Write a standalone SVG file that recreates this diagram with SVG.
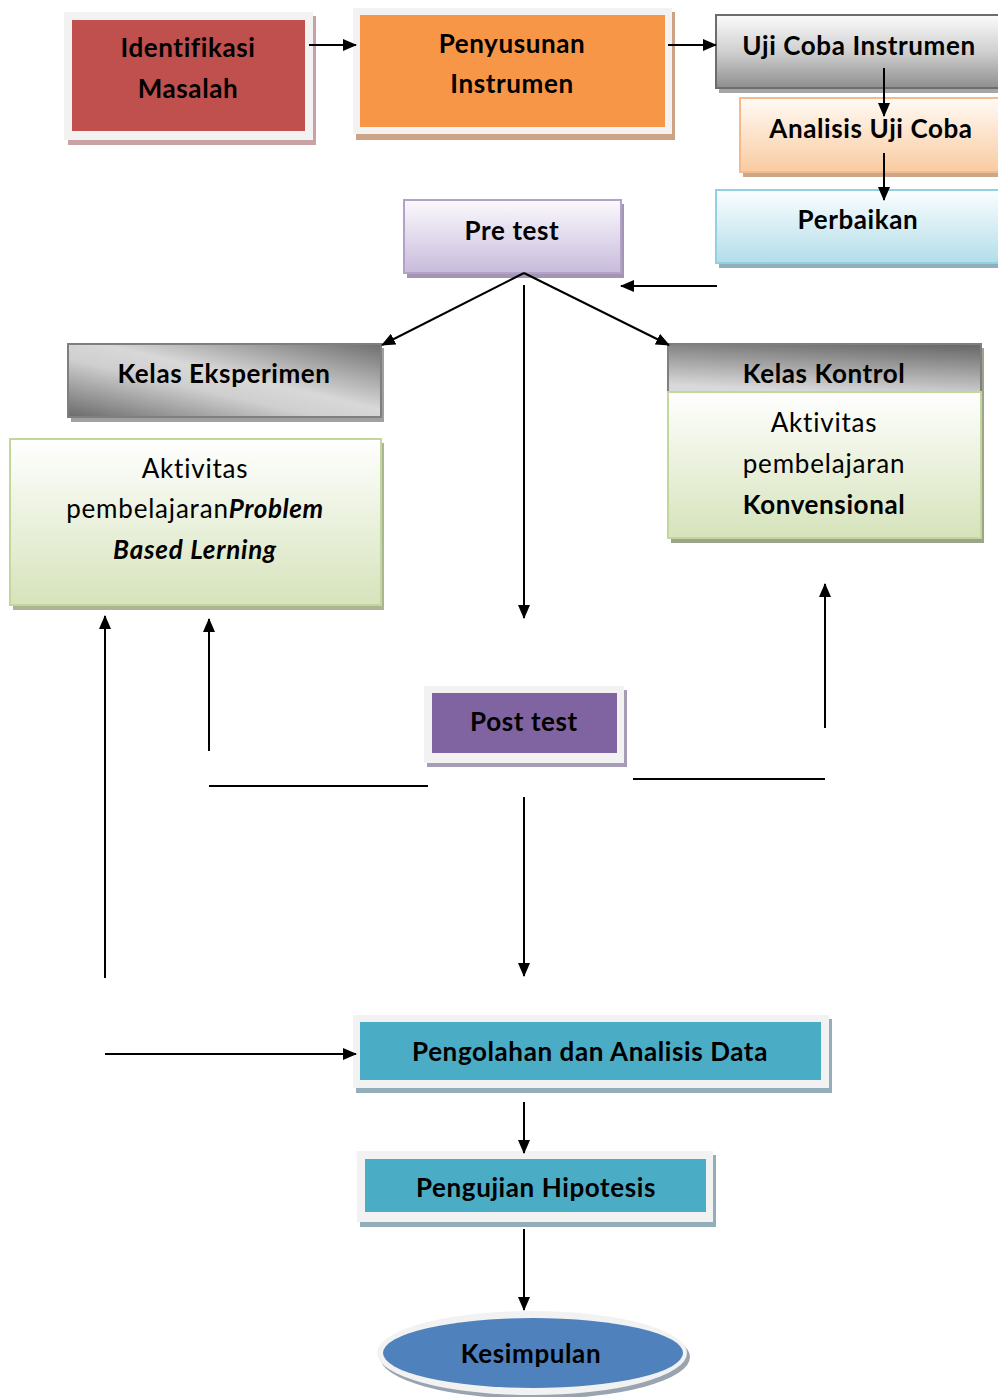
<svg xmlns="http://www.w3.org/2000/svg" width="998" height="1397" viewBox="0 0 998 1397">
<defs>
<style>
.t{font-family:Lato,"Liberation Sans",sans-serif;font-weight:700;font-size:26px;letter-spacing:0.6px;fill:#000;text-anchor:middle;font-variant-ligatures:none}
.n{font-family:Lato,"Liberation Sans",sans-serif;font-weight:400;font-size:26px;letter-spacing:0.8px;fill:#000;text-anchor:middle;font-variant-ligatures:none}
.bi{font-weight:700;font-style:italic}
.frame{fill:#f2f2f2}
.ln{stroke:#000;stroke-width:2;fill:none}
.arr{marker-end:url(#ah)}
</style>
<marker id="ah" markerUnits="userSpaceOnUse" markerWidth="14" markerHeight="12" refX="13" refY="6" orient="auto">
<path d="M0,0 L14,6 L0,12 z" fill="#000"/>
</marker>
<linearGradient id="gUji" x1="0" y1="0" x2="0" y2="1"><stop offset="0" stop-color="#fbfbfb"/><stop offset="0.5" stop-color="#d0d0d0"/><stop offset="1" stop-color="#8e8e8e"/></linearGradient>
<linearGradient id="gAnal" x1="0" y1="0" x2="0" y2="1"><stop offset="0" stop-color="#fffaf5"/><stop offset="1" stop-color="#f9cba0"/></linearGradient>
<linearGradient id="gPerb" x1="0" y1="0" x2="0" y2="1"><stop offset="0" stop-color="#fbfeff"/><stop offset="1" stop-color="#b3dde9"/></linearGradient>
<linearGradient id="gPre" x1="0" y1="0" x2="0" y2="1"><stop offset="0" stop-color="#fbf9fd"/><stop offset="1" stop-color="#c8bbdb"/></linearGradient>
<linearGradient id="gGreen" x1="0" y1="0" x2="0" y2="1"><stop offset="0" stop-color="#ffffff"/><stop offset="1" stop-color="#d6e3bb"/></linearGradient>
<linearGradient id="gEks" x1="1" y1="0" x2="0" y2="1"><stop offset="0" stop-color="#6e6e6e"/><stop offset="0.45" stop-color="#d8d8d8"/><stop offset="0.6" stop-color="#cfcfcf"/><stop offset="1" stop-color="#6a6a6a"/></linearGradient>
<linearGradient id="gKon" x1="0.8" y1="0" x2="0.5" y2="1"><stop offset="0" stop-color="#6a6a6a"/><stop offset="1" stop-color="#d9d9d9"/></linearGradient>
</defs>

<g id="identifikasi">
<rect x="68" y="16" width="248" height="129" fill="#c9a3a3"/>
<rect class="frame" x="64" y="12" width="249" height="128"/>
<rect x="72" y="20" width="233" height="111" fill="#c0504d"/>
<text class="t" x="188" y="57">Identifikasi</text>
<text class="t" x="188" y="98">Masalah</text>
</g>

<g id="penyusunan">
<rect x="356" y="12" width="319" height="128" fill="#cda385"/>
<rect class="frame" x="353" y="8" width="319" height="126"/>
<rect x="360" y="15" width="305" height="112" fill="#f79646"/>
<text class="t" x="512" y="53">Penyusunan</text>
<text class="t" x="512" y="93">Instrumen</text>
</g>

<g id="ujicoba">
<rect x="719" y="19" width="285" height="74" fill="#a6a6a6"/>
<rect x="716" y="15" width="290" height="73" fill="url(#gUji)" stroke="#6d6d6d" stroke-width="2"/>
<text class="t" x="859" y="55">Uji Coba Instrumen</text>
</g>

<g id="analisis">
<rect x="743" y="102" width="262" height="75" fill="#c8a888"/>
<rect x="740" y="98" width="266" height="74" fill="url(#gAnal)" stroke="#f5b98b" stroke-width="2"/>
<text class="t" x="871" y="138">Analisis Uji Coba</text>
</g>

<g id="perbaikan">
<rect x="719" y="194" width="285" height="74" fill="#8fb0ba"/>
<rect x="716" y="190" width="290" height="73" fill="url(#gPerb)" stroke="#92d1e2" stroke-width="2"/>
<text class="t" x="858" y="229">Perbaikan</text>
</g>

<g id="pretest">
<rect x="407" y="204" width="217" height="74" fill="#a396b3"/>
<rect x="404" y="200" width="217" height="73" fill="url(#gPre)" stroke="#b3a2c7" stroke-width="2"/>
<text class="t" x="512" y="240">Pre test</text>
</g>

<g id="kelas-eksperimen">
<rect x="71" y="348" width="313" height="74" fill="#a0a0a0"/>
<rect x="68" y="344" width="313" height="73" fill="url(#gEks)" stroke="#7f7f7f" stroke-width="2"/>
<text class="t" x="224" y="383">Kelas Eksperimen</text>
</g>

<g id="aktivitas-pbl">
<rect x="13" y="443" width="371" height="167" fill="#aab594"/>
<rect x="10" y="439" width="371" height="166" fill="url(#gGreen)" stroke="#c3d69b" stroke-width="2"/>
<text class="n" x="195" y="478">Aktivitas</text>
<text class="n" x="195" y="518">pembelajaran<tspan class="bi" letter-spacing="0.6px">Problem</tspan></text>
<text class="n bi" x="195" y="559" letter-spacing="0.6px">Based Lerning</text>
</g>

<g id="kelas-kontrol">
<rect x="671" y="348" width="313" height="195" fill="#9aa58a"/>
<rect x="668" y="344" width="313" height="48" fill="url(#gKon)" stroke="#7f7f7f" stroke-width="2"/>
<text class="t" x="824" y="383">Kelas Kontrol</text>
<rect x="668" y="392" width="313" height="146" fill="url(#gGreen)" stroke="#c3d69b" stroke-width="2"/>
<text class="n" x="824" y="432">Aktivitas</text>
<text class="n" x="824" y="473">pembelajaran</text>
<text class="t" x="824" y="514">Konvensional</text>
</g>

<g id="posttest">
<rect x="427" y="690" width="200" height="77" fill="#a79cb5"/>
<rect class="frame" x="424" y="686" width="200" height="77"/>
<rect x="432" y="693" width="185" height="60" fill="#8064a2"/>
<text class="t" x="524" y="731">Post test</text>
</g>

<g id="pengolahan">
<rect x="356" y="1019" width="476" height="74" fill="#93aeb8"/>
<rect class="frame" x="353" y="1015" width="476" height="73"/>
<rect x="360" y="1022" width="461" height="58" fill="#4bacc6"/>
<text class="t" x="590" y="1061">Pengolahan dan Analisis Data</text>
</g>

<g id="pengujian">
<rect x="360" y="1155" width="356" height="72" fill="#93aeb8"/>
<rect class="frame" x="357" y="1151" width="356" height="71"/>
<rect x="365" y="1159" width="341" height="53" fill="#4bacc6"/>
<text class="t" x="536" y="1197">Pengujian Hipotesis</text>
</g>

<g id="kesimpulan">
<ellipse cx="535" cy="1357" rx="155" ry="42" fill="#9aa3b0"/>
<ellipse cx="532" cy="1353" rx="155" ry="42" fill="#f2f2f2"/>
<ellipse cx="533" cy="1353" rx="150" ry="35" fill="#4f81bd"/>
<text class="t" x="531" y="1363">Kesimpulan</text>
</g>

<g id="connectors">
<line class="ln arr" x1="309" y1="45" x2="356" y2="45"/>
<line class="ln arr" x1="668" y1="45" x2="716" y2="45"/>
<line class="ln arr" x1="884" y1="68" x2="884" y2="116"/>
<line class="ln arr" x1="884" y1="153" x2="884" y2="200"/>
<line class="ln arr" x1="717" y1="286" x2="621" y2="286"/>
<line class="ln arr" x1="524" y1="273" x2="382" y2="345"/>
<line class="ln arr" x1="524" y1="273" x2="669" y2="345"/>
<line class="ln arr" x1="524" y1="285" x2="524" y2="618"/>
<line class="ln arr" x1="825" y1="728" x2="825" y2="584"/>
<line class="ln arr" x1="209" y1="751" x2="209" y2="619"/>
<line class="ln arr" x1="105" y1="978" x2="105" y2="616"/>
<line class="ln" x1="209" y1="786" x2="428" y2="786"/>
<line class="ln" x1="633" y1="779" x2="825" y2="779"/>
<line class="ln arr" x1="524" y1="797" x2="524" y2="976"/>
<line class="ln arr" x1="105" y1="1054" x2="356" y2="1054"/>
<line class="ln arr" x1="524" y1="1102" x2="524" y2="1153"/>
<line class="ln arr" x1="524" y1="1229" x2="524" y2="1310"/>
</g>
</svg>
